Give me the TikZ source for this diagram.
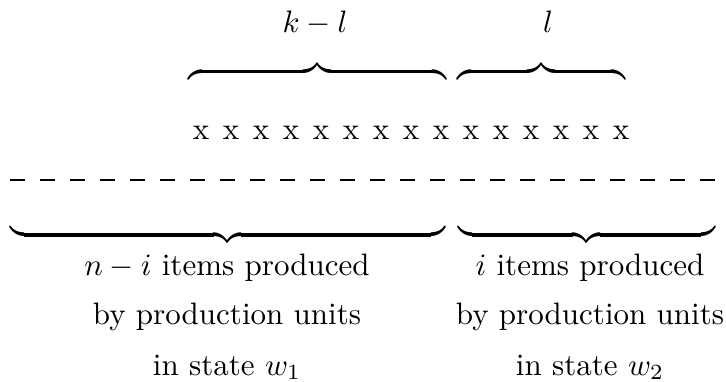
\documentclass[tikz,border=0pt]{standalone}
\usetikzlibrary{positioning}
\tikzset{
  px/.style={x=0.3226pt, y=-0.3226pt},
  txt/.style={anchor=base, inner sep=0pt},
  bracebox/.style={inner sep=0pt},
  sepline/.style={line width=0.4pt, dash pattern=on 4.84pt off 4.84pt}
}
\newcommand{\ovbrace}[1]{\hbox to #1{\downbracefill}}
\newcommand{\unbrace}[1]{\hbox to #1{\upbracefill}}

\begin{document}
\begin{tikzpicture}[px]
\useasboundingbox (0,0) rectangle (726,382);
\node[txt] (kl) at (315,33) {$k-l$};
\node[txt] (l) at (548,33) {$l$};
\node[bracebox] (bkl) at (317.5,71.5) {\ovbrace{83.5pt}};
\node[bracebox] (bl) at (541,71.5) {\ovbrace{54.2pt}};
\foreach \i in {0,...,14}
  \node[txt] (x\i) at (201+30*\i,140) {x};
\coordinate (sepw) at (10,180);
\coordinate (sepe) at (715,180);
\draw[sepline] (sepw) -- (sepe);
\node[bracebox] (bni) at (227.5,235) {\unbrace{140.3pt}};
\node[bracebox] (bi) at (586.5,235) {\unbrace{82.9pt}};
\node[txt] (ni1) at (227,276) {$n-i$ items produced};
\node[txt] (ni2) at (227,325) {by production units};
\node[txt] (ni3) at (227,375) {in state $w_1$};
\node[txt] (i1) at (590,276) {$i$ items produced};
\node[txt] (i2) at (590,325) {by production units};
\node[txt] (i3) at (590,375) {in state $w_2$};
\end{tikzpicture}
\end{document}
